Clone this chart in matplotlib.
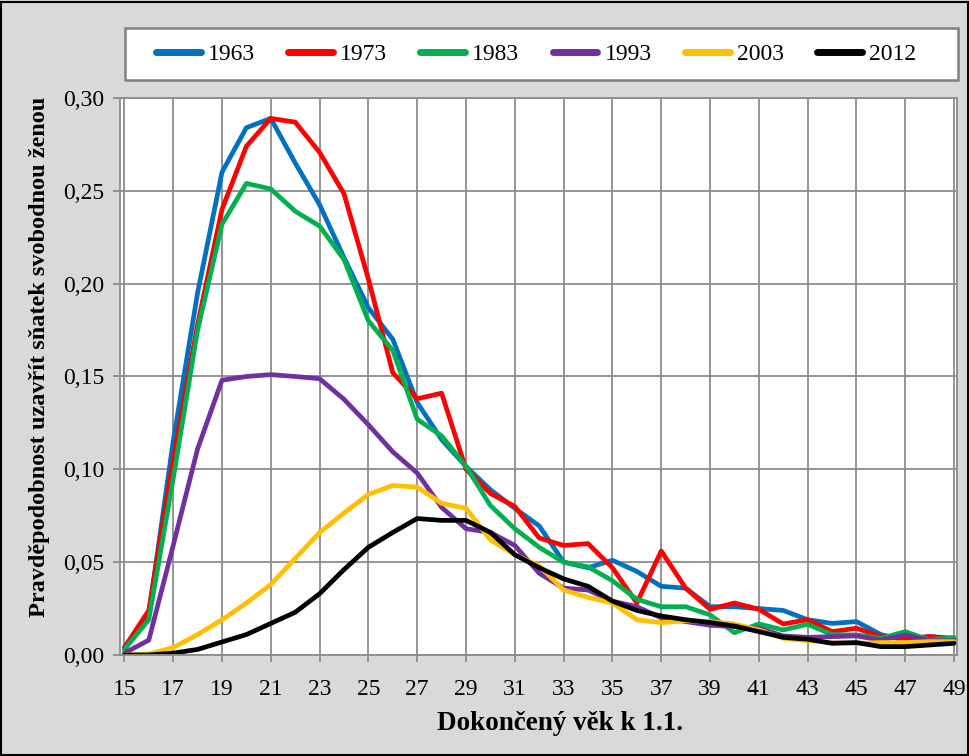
import numpy as np
import matplotlib
matplotlib.use("Agg")
import matplotlib.pyplot as plt
from matplotlib.ticker import FuncFormatter, MultipleLocator

# age (completed years at 1.1.)
ages = np.arange(15, 50)

# probability that a single woman marries, by cohort year
p1963 = [0.004, 0.022, 0.115, 0.195, 0.260, 0.284, 0.289, 0.265, 0.2425, 0.214,
         0.187, 0.170, 0.136, 0.116, 0.1015, 0.089, 0.079, 0.0695, 0.050, 0.047,
         0.051, 0.045, 0.037, 0.036, 0.026, 0.026, 0.025, 0.024, 0.019, 0.017,
         0.018, 0.011, 0.008, 0.010, 0.009]
p1973 = [0.004, 0.024, 0.105, 0.178, 0.240, 0.274, 0.289, 0.287, 0.2707, 0.2484,
         0.2024, 0.152, 0.138, 0.141, 0.100, 0.087, 0.080, 0.063, 0.059, 0.060,
         0.047, 0.028, 0.056, 0.036, 0.0246, 0.028, 0.0246, 0.0167, 0.019, 0.0126,
         0.0144, 0.0099, 0.009, 0.0099, 0.0085]
p1983 = [0.003, 0.019, 0.095, 0.175, 0.232, 0.254, 0.251, 0.239, 0.231, 0.213,
         0.180, 0.164, 0.127, 0.118, 0.1015, 0.0805, 0.068, 0.058, 0.050, 0.0475,
         0.040, 0.030, 0.026, 0.026, 0.0216, 0.012, 0.0167, 0.0135, 0.0165, 0.011,
         0.0108, 0.009, 0.0126, 0.008, 0.0095]
p1993 = [0.001, 0.008, 0.059, 0.111, 0.148, 0.150, 0.151, 0.150, 0.1488, 0.1377,
         0.124, 0.1094, 0.098, 0.0795, 0.068, 0.066, 0.059, 0.044, 0.036, 0.035,
         0.029, 0.026, 0.020, 0.018, 0.016, 0.0153, 0.0144, 0.0103, 0.0095, 0.0099,
         0.0103, 0.008, 0.0108, 0.0077, 0.0077]
p2003 = [0.000, 0.0005, 0.004, 0.011, 0.019, 0.028, 0.038, 0.052, 0.066, 0.0765,
         0.0865, 0.0913, 0.0904, 0.0817, 0.079, 0.062, 0.054, 0.048, 0.035, 0.031,
         0.028, 0.019, 0.0174, 0.0185, 0.018, 0.0167, 0.0135, 0.009, 0.0077, 0.0067,
         0.0063, 0.0067, 0.0067, 0.0072, 0.0072]
p2012 = [0.000, 0.000, 0.001, 0.003, 0.007, 0.011, 0.017, 0.023, 0.033, 0.046,
         0.058, 0.066, 0.0735, 0.0725, 0.0725, 0.066, 0.054, 0.047, 0.041, 0.037,
         0.029, 0.024, 0.021, 0.019, 0.0175, 0.0156, 0.0126, 0.0095, 0.0085, 0.0063,
         0.0067, 0.0045, 0.0045, 0.0054, 0.0063]

series = [p1963, p1973, p1983, p1993, p2003, p2012]
labels = ["1963", "1973", "1983", "1993", "2003", "2012"]
colors = ["#0070C0", "#FF0000", "#00B050", "#7030A0", "#FFC000", "#000000"]

plt.rcParams["font.family"] = ["Liberation Serif", "DejaVu Serif"]

fig = plt.figure(figsize=(9.7, 7.56), dpi=100, facecolor="#d9d9d9")
ax = fig.add_axes([0.1237, 0.1336, 0.8629, 0.7368])
ax.set_facecolor("white")

for vals, lab, col in zip(series, labels, colors):
    ax.plot(ages, vals, color=col, lw=3.4, label=lab, solid_capstyle="round",
            solid_joinstyle="round")

ax.set_xlim(14.82, 49.12)
ax.set_ylim(0, 0.30)
ax.set_xticks(np.arange(15, 50, 2))
ax.yaxis.set_major_locator(MultipleLocator(0.05))
ax.yaxis.set_major_formatter(FuncFormatter(lambda v, p: f"{v:.2f}".replace(".", ",")))

ax.grid(True, color="#8c8c8c", lw=1.3)
ax.set_axisbelow(True)
for s in ax.spines.values():
    s.set_color("#8c8c8c")
    s.set_linewidth(1.3)
ax.tick_params(axis="both", labelsize=17, color="#8c8c8c", length=5, width=1.3)
ax.tick_params(axis="y", pad=6)
ax.tick_params(axis="x", pad=12)

ax.set_xlabel("Dokončený věk k 1.1.", fontsize=19.5, fontweight="bold")
ax.xaxis.set_label_coords(0.526, -0.10)
ax.set_ylabel("Pravděpodobnost uzavřít sňatek svobodnou ženou", fontsize=17.5,
              fontweight="bold")
ax.yaxis.set_label_coords(-0.084, 0.535)

# legend box (white with grey border) and legend entries
fig.patches.append(plt.Rectangle((125 / 970, 1 - 80 / 756), 833 / 970, 52 / 756,
                                 transform=fig.transFigure, facecolor="white",
                                 edgecolor="#808080", lw=1.8, zorder=0))
leg = fig.legend(loc="center", ncol=6, bbox_to_anchor=(536 / 970, 1 - 54 / 756),
                 fontsize=17, handlelength=1.9, handletextpad=0.3,
                 columnspacing=1.4, frameon=False, borderpad=0.2)
for h in leg.get_lines():
    h.set_linewidth(5)
    h.set_solid_capstyle("round")

# outer chart border
fig.patches.append(plt.Rectangle((0.001, 0.001), 0.997, 0.997, transform=fig.transFigure,
                                 fill=False, edgecolor="black", lw=1.5))

fig.savefig("out.png", dpi=100, facecolor=fig.get_facecolor())
